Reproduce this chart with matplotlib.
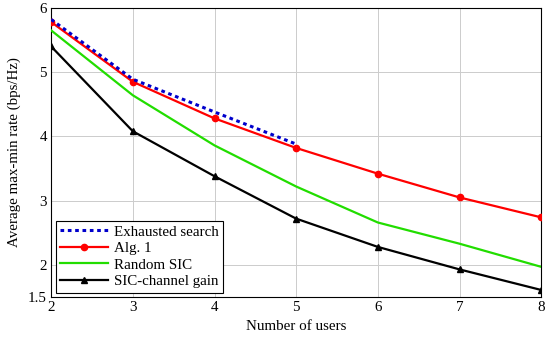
import numpy as np
import matplotlib.pyplot as plt

plt.rcParams['font.family'] = ['Liberation Serif', 'DejaVu Serif']

# Data
users = [2, 3, 4, 5, 6, 7, 8]
users_exh = [2, 3, 4, 5]
exhausted = [5.82, 4.89, 4.38, 3.88]
alg1 = [5.78, 4.85, 4.28, 3.82, 3.42, 3.05, 2.74]
random_sic = [5.65, 4.64, 3.86, 3.22, 2.66, 2.33, 1.97]
sic_gain = [5.40, 4.08, 3.38, 2.72, 2.28, 1.93, 1.61]

x_ticks = [2, 3, 4, 5, 6, 7, 8]
y_ticks = [1.5, 2, 3, 4, 5, 6]
y_tick_labels = ['1.5', '2', '3', '4', '5', '6']

fig = plt.figure(figsize=(5.5, 3.43), dpi=100)
ax = fig.add_axes([0.093, 0.134, 0.891, 0.843])

ax.plot(users_exh, exhausted, color='#0000cc', linestyle=(0, (1.2, 1.2)), linewidth=2.2,
        label='Exhausted search', zorder=4)
ax.plot(users, alg1, color='red', linewidth=1.6, marker='o', markersize=4.5,
        label='Alg. 1', zorder=3)
ax.plot(users, random_sic, color='#22dd00', linewidth=1.6, label='Random SIC', zorder=3)
ax.plot(users, sic_gain, color='black', linewidth=1.6, marker='^', markersize=4.5,
        label='SIC-channel gain', zorder=3)

ax.set_xlim(2, 8)
ax.set_ylim(1.5, 6)
ax.set_xticks(x_ticks)
ax.set_yticks(y_ticks)
ax.set_yticklabels(y_tick_labels)
ax.tick_params(length=0, labelsize=10.8, pad=3)
ax.grid(True, color='#cccccc', linewidth=0.7)
ax.set_axisbelow(True)
for s in ax.spines.values():
    s.set_linewidth(0.8)

ax.set_xlabel('Number of users', fontsize=10.8, labelpad=4)
ax.set_ylabel('Average max-min rate (bps/Hz)', fontsize=10.8, labelpad=5)

leg = ax.legend(loc='lower left', fontsize=10.8, frameon=True, fancybox=False,
                edgecolor='black', framealpha=1, borderpad=0.3, labelspacing=0.2,
                handlelength=3.2, handletextpad=0.4, borderaxespad=0.3)
leg.get_frame().set_linewidth(0.8)

fig.savefig('out.png', dpi=100)
